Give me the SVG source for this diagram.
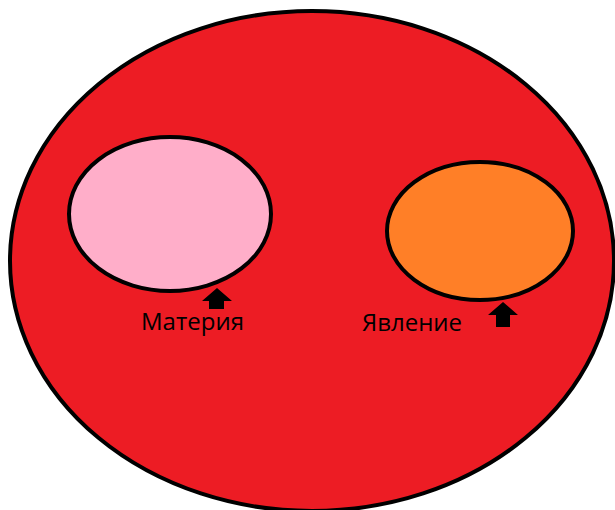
<svg xmlns="http://www.w3.org/2000/svg" width="615" height="510" viewBox="0 0 615 510">
<style>
.e{stroke:#000;stroke-width:4}
.a{fill:#000}
.t{font-family:"Open Sans","Noto Sans",sans-serif;font-size:24px;fill:#000}
</style>
<rect width="615" height="510" fill="#fff"/>
<g id="world"><ellipse class="e" cx="312" cy="261" rx="302" ry="250" fill="#ed1c24"/></g>
<g id="materia">
<ellipse class="e" cx="170" cy="214" rx="101" ry="77" fill="#ffaec9"/>
<text class="t" x="141" y="330">Материя</text>
</g>
<g id="yavlenie">
<ellipse class="e" cx="480" cy="231" rx="93" ry="69" fill="#ff7f27"/>
<text class="t" x="362" y="331">Явление</text>
</g>
<g id="connectors">
<polygon class="a" points="217,288 232,301 224,301 224,309 209,309 209,301 202,301"/>
<polygon class="a" points="503,302 518,315 510,315 510,327 496,327 496,315 488,315"/>
</g>
</svg>
